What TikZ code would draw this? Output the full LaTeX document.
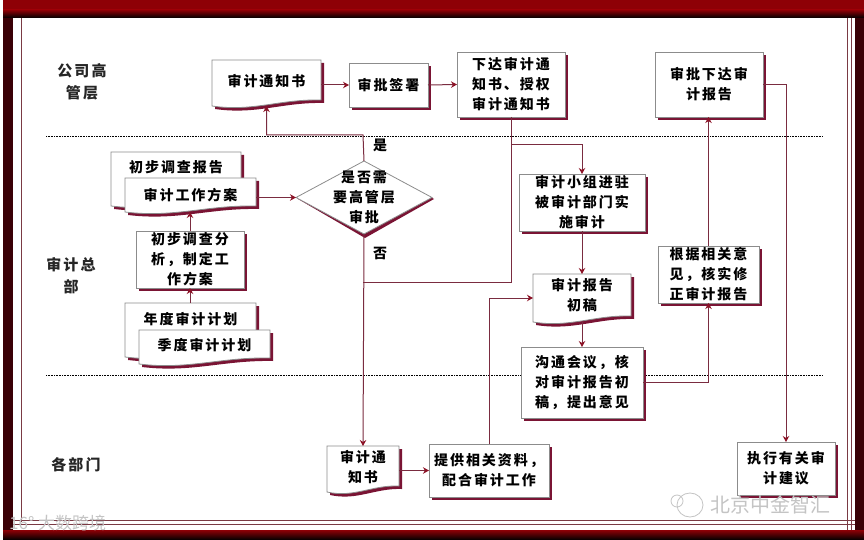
\documentclass[tikz,border=0pt]{standalone}
\usepackage{fontspec}
\setmainfont{Noto Sans CJK SC}[LetterSpace=14]
\newfontfamily\wmfont{Noto Sans CJK SC}
\usetikzlibrary{arrows.meta,shapes.geometric}
\definecolor{shadowred}{HTML}{7A1434}
\definecolor{edgegray}{HTML}{8C8C8C}
\definecolor{linkred}{HTML}{7A2C40}
\definecolor{headred}{HTML}{8C1226}
\definecolor{framered}{HTML}{8E0006}
\definecolor{framedark}{HTML}{3A0006}
\definecolor{innerline}{HTML}{7A3A44}
\definecolor{wmgray}{HTML}{C4C4C4}
\tikzset{
  x=1pt,y=-1pt,
  boxtext/.style={font=\fontsize{14}{20}\selectfont\bfseries,align=center,inner sep=0pt,text=black},
  lanetext/.style={font=\fontsize{15}{22}\selectfont\bfseries,align=center,inner sep=0pt,text=black!85},
  frameshape/.style={inner sep=0pt,outer sep=0pt,draw=edgegray,line width=.8pt,fill=white},
  blankshape/.style={inner sep=0pt,outer sep=0pt},
  link/.style={draw=linkred,line width=1pt},
  linkarrow/.style={link,-{Stealth[length=6pt,width=6.5pt,color=headred]}},
  laneline/.style={line width=1pt,black,dash pattern=on 1pt off .6pt},
}
% plain box: name, x1, y1, x2, y2, text
\newcommand\flowbox[6]{%
  \fill[shadowred] (#2+3,#3+3) rectangle (#4+3,#5+3);
  \node[frameshape,boxtext,minimum width={(#4-#2)*1pt},minimum height={(#5-#3)*1pt}] (#1) at ({(#2+#4)/2},{(#3+#5)/2}) {#6};
}
% document shape: name, x1, y1, x2, y2, text centre y, text
\newcommand\docbox[7]{%
  \fill[shadowred,shift={(3,3)}] (#2,#3) -- (#4,#3) -- (#4,#5-6) .. controls ({#2+.62*(#4-#2)},#5-7) and ({#2+.38*(#4-#2)},#5+6) .. (#2,#5) -- cycle;
  \draw[fill=white,draw=edgegray,line width=.8pt] (#2,#3) -- (#4,#3) -- (#4,#5-6) .. controls ({#2+.62*(#4-#2)},#5-7) and ({#2+.38*(#4-#2)},#5+6) .. (#2,#5) -- cycle;
  \node[blankshape,minimum width={(#4-#2)*1pt},minimum height={(#5-#3)*1pt}] (#1) at ({(#2+#4)/2},{(#3+#5)/2}) {};
  \node[boxtext] (#1-text) at ({(#2+#4)/2},#6) {#7};
}
\begin{document}
\begin{tikzpicture}
\useasboundingbox (0,0) rectangle (864,540);
% frame
\fill[white] (0,0) rectangle (864,540);
\shade[top color=framered,bottom color=framered] (3,0) rectangle (864,11);
\shade[top color=framered,bottom color=black] (3,10) rectangle (864,18);
\fill[framedark] (3,18) rectangle (13,530);
\fill[framedark] (855,18) rectangle (864,530);
\shade[top color=framered,bottom color=black] (3,530) rectangle (864,540);
\draw[innerline,line width=.9pt] (21,18) -- (21,522);
\draw[innerline,line width=.9pt] (847,18) -- (847,530);
\draw[innerline,line width=.9pt] (851,18) -- (851,530);
\draw[innerline,line width=.9pt] (13,520) -- (855,520);
\draw[innerline,line width=.9pt] (13,524.5) -- (855,524.5);
% lane separators
\draw[laneline] (46,137) -- (823,137);
\draw[laneline] (46,375) -- (823,375);
% lane labels
\node[lanetext] (lane1) at (82,82) {公司高\\管层};
\node[lanetext] (lane2) at (71,276) {审计总\\部};
\node[lanetext] (lane3) at (76,465) {各部门};
% top lane
\docbox{notice}{212}{60}{321}{106}{81}{审计通知书}
\flowbox{sign}{349}{63}{428}{107}{审批签署}
\flowbox{issue}{457}{52}{565}{117}{下达审计通\\知书、授权\\审计通知书}
\flowbox{approve}{655}{52}{763}{117}{审批下达审\\计报告}
% middle lane left
\docbox{survey}{111}{152}{241}{206}{167}{初步调查报告}
\docbox{plan}{125}{178}{256}{212}{195}{审计工作方案}
\flowbox{analysis}{136}{231}{244}{288}{初步调查分\\析，制定工\\作方案}
\docbox{annual}{125}{303}{256}{357}{319}{年度审计计划}
\docbox{quarter}{139}{330}{270}{364}{345}{季度审计计划}
% decision
\fill[shadowred] (298,199) -- (365,164) -- (434,199) -- (365,238) -- cycle;
\node[diamond,blankshape,draw=edgegray,line width=.8pt,fill=white,aspect=1.86,minimum width=136pt,minimum height=73pt] (decide) at (364,197.5) {};
\node[boxtext] (decide-text) at (364,197) {是否需\\要高管层\\审批};
% middle lane right
\flowbox{team}{519}{174}{645}{231}{审计小组进驻\\被审计部门实\\施审计}
\docbox{draft}{533}{274}{631}{322}{295}{审计报告\\初稿}
\flowbox{meeting}{521}{347}{643}{418}{沟通会议，核\\对审计报告初\\稿，提出意见}
\flowbox{revise}{658}{246}{759}{303}{根据相关意\\见，核实修\\正审计报告}
% bottom lane
\docbox{notice2}{327}{446}{399}{492}{467}{审计通\\知书}
\flowbox{supply}{429}{444}{549}{497}{提供相关资料，\\配合审计工作}
\flowbox{execute}{737}{442}{835}{495}{执行有关审\\计建议}
% branch labels
\node[boxtext] (yes) at (380,145) {是};
\node[boxtext] (no) at (380,253) {否};
% junctions
\coordinate (j1) at (511,145);
\coordinate (j2) at (511,282);
\coordinate (j3) at (363,282);
\coordinate (j4) at (363,135);
% connectors
\draw[linkarrow] (sign.west -| notice.east) -- (sign.west);
\draw[linkarrow] (sign.east) -- (issue.west);
\draw[link] (issue.south) -- (j2) -- (j3);
\draw[linkarrow] (j1) -| (team.north);
\draw[linkarrow] (decide.north) -- (j4) -| (notice.south);
\draw[linkarrow] (decide.west -| plan.east) -- (decide.west);
\draw[linkarrow] (analysis.north) -- (plan.south -| analysis.north);
\draw[linkarrow] (annual.north -| analysis.south) -- (analysis.south);
\draw[linkarrow] (decide.south) -- (notice2.north);
\draw[linkarrow] (team.south) -- (draft.north);
\draw[linkarrow] (draft.south) -- (meeting.north -| draft.south);
\draw[linkarrow] (meeting.east) -| (revise.south);
\draw[linkarrow] (revise.north) -- (approve.south -| revise.north);
\draw[linkarrow] (approve.east) -| (execute.north);
\draw[linkarrow] (notice2.east |- supply.west) -- (supply.west);
\draw[linkarrow] (supply.north) |- (draft.west);
% watermarks
\node[font=\wmfont\fontsize{20}{20}\selectfont,text=wmgray,inner sep=0pt,anchor=west] (mark1) at (710,505) {北京中金智汇};
\draw[wmgray,line width=.8pt] (690,505) ellipse (13 and 12);
\draw[wmgray,line width=.8pt] (677,501) ellipse (6 and 6);
\node[font=\wmfont\fontsize{17}{17}\selectfont,text=wmgray,inner sep=0pt,anchor=west] (mark2) at (9,523) {16° 大数跨境};
\end{tikzpicture}
\end{document}
